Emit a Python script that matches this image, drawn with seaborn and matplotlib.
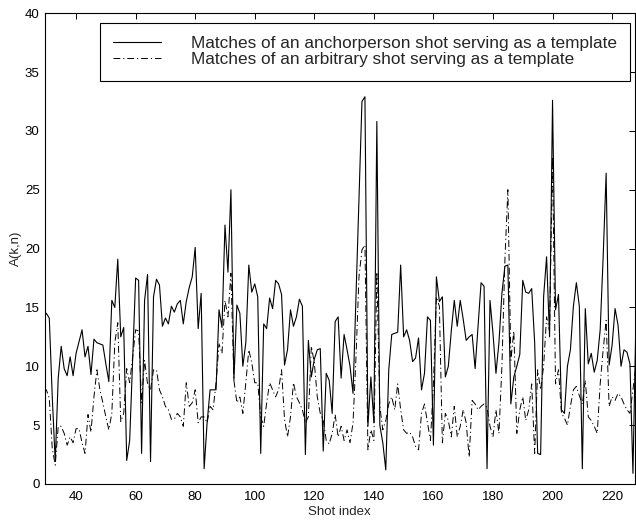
import numpy as np
import pandas as pd
import matplotlib
matplotlib.use("Agg")
import matplotlib.pyplot as plt
import seaborn as sns

# shot indices 29..228
shot = list(range(29, 229))

anchor = [14.1, 14.5, 14.1, 7.4, 1.9, 9.0, 11.7, 9.8, 9.2, 10.8,
          9.2, 11.1, 12.1, 13.1, 10.8, 11.7, 9.3, 12.3, 12.0, 11.9,
          11.8, 10.2, 8.7, 15.6, 15.0, 19.1, 12.5, 13.3, 2.0, 3.7,
          10.7, 17.5, 17.3, 2.6, 15.6, 17.8, 1.9, 15.9, 17.4, 16.9,
          13.4, 14.1, 13.6, 15.1, 14.6, 15.3, 15.6, 13.6, 15.5, 16.7,
          17.6, 20.1, 13.2, 16.2, 1.3, 5.2, 8.0, 8.0, 8.0, 14.8,
          13.3, 22.0, 18.0, 25.0, 8.8, 15.2, 14.5, 10.0, 12.0, 18.6,
          16.3, 17.0, 15.9, 2.6, 13.6, 13.2, 15.8, 14.9, 17.3, 17.0,
          16.1, 10.1, 11.4, 14.8, 13.4, 14.2, 15.7, 15.1, 2.5, 12.2,
          9.1, 10.6, 11.4, 11.5, 2.8, 9.4, 8.8, 6.0, 13.8, 14.2,
          9.0, 12.7, 11.4, 10.0, 7.7, 16.0, 24.0, 32.5, 32.9, 4.9,
          9.1, 5.2, 30.8, 5.0, 3.5, 1.2, 9.7, 12.7, 12.8, 12.9,
          18.6, 12.5, 13.1, 12.2, 10.4, 10.7, 12.4, 8.0, 9.4, 14.2,
          13.9, 3.3, 17.6, 15.5, 15.9, 9.1, 10.0, 13.0, 15.6, 13.4,
          15.6, 14.0, 12.2, 12.5, 12.7, 9.8, 13.5, 17.1, 16.8, 1.3,
          15.6, 12.8, 9.4, 12.0, 16.2, 18.5, 18.6, 6.8, 9.1, 10.0,
          11.0, 17.3, 16.3, 16.2, 16.6, 12.0, 2.6, 2.5, 15.9, 19.3,
          12.5, 32.6, 14.8, 16.1, 6.3, 6.0, 10.0, 11.4, 15.1, 17.1,
          15.1, 1.3, 14.9, 10.2, 11.1, 9.5, 10.5, 13.1, 19.3, 26.4,
          10.1, 11.8, 14.9, 13.5, 10.0, 11.4, 11.2, 10.2, 0.9, 13.9]

arbitrary = [8.0, 8.0, 7.3, 3.0, 1.6, 4.9, 4.9, 4.3, 3.3, 4.0,
             3.5, 4.7, 4.7, 3.5, 2.6, 5.9, 4.4, 7.4, 9.7, 8.0,
             6.9, 5.7, 4.6, 6.0, 12.0, 13.7, 5.3, 6.0, 9.8, 8.6,
             10.8, 13.1, 13.0, 6.9, 10.5, 8.5, 8.0, 9.7, 9.7, 8.0,
             7.4, 6.6, 6.3, 5.5, 5.5, 6.0, 5.7, 4.9, 8.6, 6.6,
             6.9, 8.0, 5.2, 5.7, 5.7, 5.2, 6.6, 6.3, 8.6, 11.9,
             11.1, 15.6, 14.2, 17.9, 8.8, 6.9, 7.4, 6.0, 8.6, 11.4,
             10.3, 8.6, 8.6, 5.7, 4.9, 6.9, 8.6, 8.0, 7.4, 8.0,
             9.7, 5.5, 4.0, 5.7, 8.6, 7.4, 6.9, 6.3, 5.2, 5.7,
             11.7, 10.3, 7.4, 6.0, 5.4, 3.7, 3.4, 4.3, 5.9, 4.0,
             4.9, 3.7, 4.6, 3.5, 5.2, 10.8, 17.6, 19.9, 20.3, 2.9,
             4.6, 3.7, 18.0, 6.6, 4.6, 5.4, 6.8, 7.4, 6.3, 8.5,
             6.3, 4.6, 4.3, 4.4, 4.0, 3.2, 2.9, 6.0, 6.8, 5.2,
             3.7, 8.5, 15.9, 15.1, 3.5, 6.0, 5.4, 4.0, 6.6, 4.0,
             4.9, 6.3, 5.2, 2.3, 7.1, 6.8, 6.3, 6.6, 6.8, 6.5,
             4.9, 4.0, 6.3, 4.3, 10.0, 19.0, 25.0, 10.5, 13.0, 4.3,
             6.3, 7.4, 5.4, 6.3, 8.5, 2.6, 9.7, 8.0, 10.0, 14.2,
             13.0, 27.8, 8.5, 9.7, 6.0, 5.6, 5.0, 6.6, 8.0, 8.3,
             7.5, 6.8, 8.8, 5.7, 5.4, 4.9, 4.3, 8.5, 11.4, 13.9,
             6.6, 7.4, 7.1, 7.7, 7.4, 6.8, 6.3, 6.0, 8.0, 10.0]

labels = ["Matches of an anchorperson shot serving as a template",
          "Matches of an arbitrary shot serving as a template"]

sns.set_style("white")
plt.rcParams['font.family'] = ['Liberation Sans', 'DejaVu Sans']

fig = plt.figure(figsize=(6.36, 5.23), dpi=100)
ax = fig.add_axes([0.070, 0.0746, 0.928, 0.9002])

sns.lineplot(x=shot, y=anchor, color='black', linewidth=0.8, label=labels[0], ax=ax)
sns.lineplot(x=shot, y=arbitrary, color='black', linewidth=0.7, label=labels[1], ax=ax)
ax.get_lines()[1].set_dashes([7, 3, 1.2, 3])

ax.set_xlim(29.4, 227.6)
ax.set_ylim(0, 40)
ax.set_xticks(range(40, 221, 20))
ax.set_yticks(range(0, 41, 5))
ax.tick_params(direction='in', length=4, width=0.7, top=True, right=True,
               labelsize=9.5, colors='black')
ax.tick_params(axis='x', pad=5)
for s in ax.spines.values():
    s.set_color('black')
    s.set_linewidth(0.8)
ax.set_xlabel("Shot index", fontsize=9.5, labelpad=2)
ax.set_ylabel("A(k,n)", fontsize=9.5, labelpad=2)

leg = ax.legend(loc='upper right', bbox_to_anchor=(0.992, 0.9796), borderaxespad=0,
                fontsize=12.4, frameon=True, fancybox=False, framealpha=1,
                edgecolor='black', handlelength=2.8, handletextpad=1.7,
                labelspacing=0.05, borderpad=0.78)
leg.get_frame().set_linewidth(0.8)

fig.savefig("out.png", dpi=100)
